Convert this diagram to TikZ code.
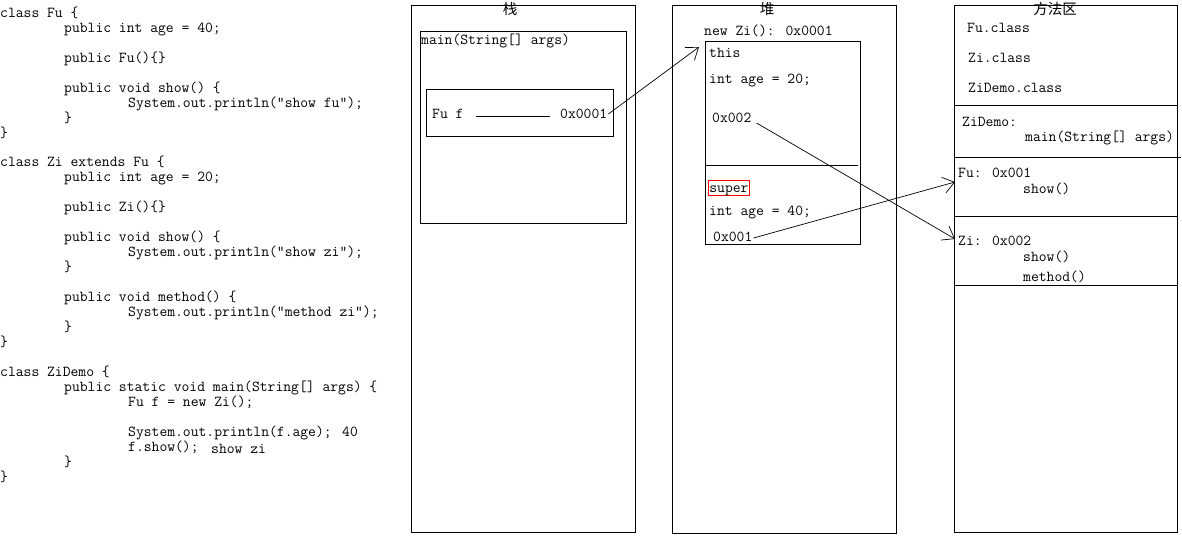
\documentclass[tikz,border=0pt]{standalone}
\usepackage{fontspec}
\newfontfamily\cjk{Noto Sans CJK SC}
\usetikzlibrary{arrows.meta}
\begin{document}
\begin{tikzpicture}[x=1pt,y=-1pt,
  txt/.style={inner sep=0pt, anchor=west, text height=11pt, text depth=2pt,
    font=\ttfamily\fontsize{15.2}{15}\selectfont},
  head/.style={inner sep=0pt, font=\cjk\fontsize{14.5}{16}\selectfont},
  frame/.style={draw, line width=1pt},
  rule/.style={draw, line width=0.9pt},
  ptr/.style={draw, line width=0.7pt, -{Straight Barb[length=11pt,width=16pt,line width=0.7pt]}},
  redbox/.style={txt, draw=red, line width=0.8pt, inner xsep=1pt, inner ysep=1pt}
]
\useasboundingbox (0,0) rectangle (1182,536);
\fill[white] (0,0) rectangle (1182,536);

% ---------------- code ----------------
\node[txt] (c0)  at (0,12.5)    {class Fu \{};
\node[txt] (c1)  at (64,27.5)   {public int age = 40;};
\node[txt] (c3)  at (64,57.5)   {public Fu()\{\}};
\node[txt] (c5)  at (64,87.5)   {public void show() \{};
\node[txt] (c6)  at (128,102.5) {System.out.println("show fu");};
\node[txt] (c7)  at (64,117.5)  {\}};
\node[txt] (c8)  at (0,132.5)   {\}};
\node[txt] (c10) at (0,162)     {class Zi extends Fu \{};
\node[txt] (c11) at (64,177)    {public int age = 20;};
\node[txt] (c13) at (64,207)    {public Zi()\{\}};
\node[txt] (c15) at (64,237)    {public void show() \{};
\node[txt] (c16) at (128,252)   {System.out.println("show zi");};
\node[txt] (c17) at (64,267)    {\}};
\node[txt] (c19) at (64,297)    {public void method() \{};
\node[txt] (c20) at (128,312)   {System.out.println("method zi");};
\node[txt] (c21) at (64,327)    {\}};
\node[txt] (c22) at (0,342)     {\}};
\node[txt] (c24) at (0,372)     {class ZiDemo \{};
\node[txt] (c25) at (64,387)    {public static void main(String[] args) \{};
\node[txt] (c26) at (128,402)   {Fu f = new Zi();};
\node[txt] (c28) at (128,432)   {System.out.println(f.age);};
\node[txt] (r28) at (342,432)   {40};
\node[txt] (c29) at (128,447)   {f.show();};
\node[txt] (r29) at (211,449)   {show zi};
\node[txt] (c30) at (64,462)    {\}};
\node[txt] (c31) at (0,477)     {\}};

% ---------------- stack ----------------
\draw[frame] (411,5) rectangle (635,532);
\draw[frame] (420,31) rectangle (626,223);
\draw[frame] (426,89) rectangle (613,136);
\node[head] (hstack) at (510,9) {栈};
\node[txt] (mainfr) at (421,40) {main(String[] args)};
\node[txt] (fuf) at (432,114) {Fu f};
\node[txt] (ref1) at (560,114) {0x0001};
\draw[line width=0.9pt] ([xshift=12pt,yshift=-2pt]fuf.east) -- ([xshift=-10pt,yshift=-2pt]ref1.west);

% ---------------- heap ----------------
\draw[frame] (672,5) rectangle (896,533);
\draw[frame] (705.5,41) rectangle (860,244);
\draw[rule] (705.5,165) -- (858,165);
\node[head] (hheap) at (767,9) {堆};
\node[txt] (newzi) at (704,31) {new Zi():\hspace{11pt}0x0001};
\node[txt] (this) at (709,53) {this};
\node[txt] (age20) at (709,79) {int age = 20;};
\node[txt] (p002) at (712,118) {0x002};
\node[redbox] (super) at (708,188) {super};
\node[txt] (age40) at (709,211) {int age = 40;};
\node[txt] (p001) at (713,237) {0x001};
\coordinate (thistip) at (699,47);

% ---------------- method area ----------------
\draw[frame] (954,5) rectangle (1177,532);
\draw[rule] (954,105.5) -- (1177,105.5);
\draw[rule] (954,157) -- (1181,157);
\draw[rule] (954,216) -- (1177,216);
\draw[rule] (954,285) -- (1177,285);
\node[head] (hmeth) at (1055,9) {方法区};
\node[txt] (fucl) at (967,28) {Fu.class};
\node[txt] (zicl) at (968,58) {Zi.class};
\node[txt] (zdcl) at (968,88) {ZiDemo.class};
\node[txt] (zd) at (962,122) {ZiDemo:};
\node[txt] (zdmain) at (1025,137) {main(String[] args)};
\node[txt] (fu) at (958,173) {Fu: 0x001};
\node[txt] (fushow) at (1023,189) {show()};
\node[txt] (zi) at (958,241) {Zi: 0x002};
\node[txt] (zishow) at (1023,257) {show()};
\node[txt] (zimeth) at (1023,277) {method()};
\coordinate (futip) at (955,182);
\coordinate (zitip) at (955,239);

% ---------------- pointers ----------------
\draw[ptr] ([xshift=1pt]ref1.east) -- (thistip);
\draw[ptr] ([xshift=5pt,yshift=-5pt]p002.east) -- (zitip);
\draw[ptr] ([xshift=1pt,yshift=-1pt]p001.east) -- (futip);
\end{tikzpicture}
\end{document}
